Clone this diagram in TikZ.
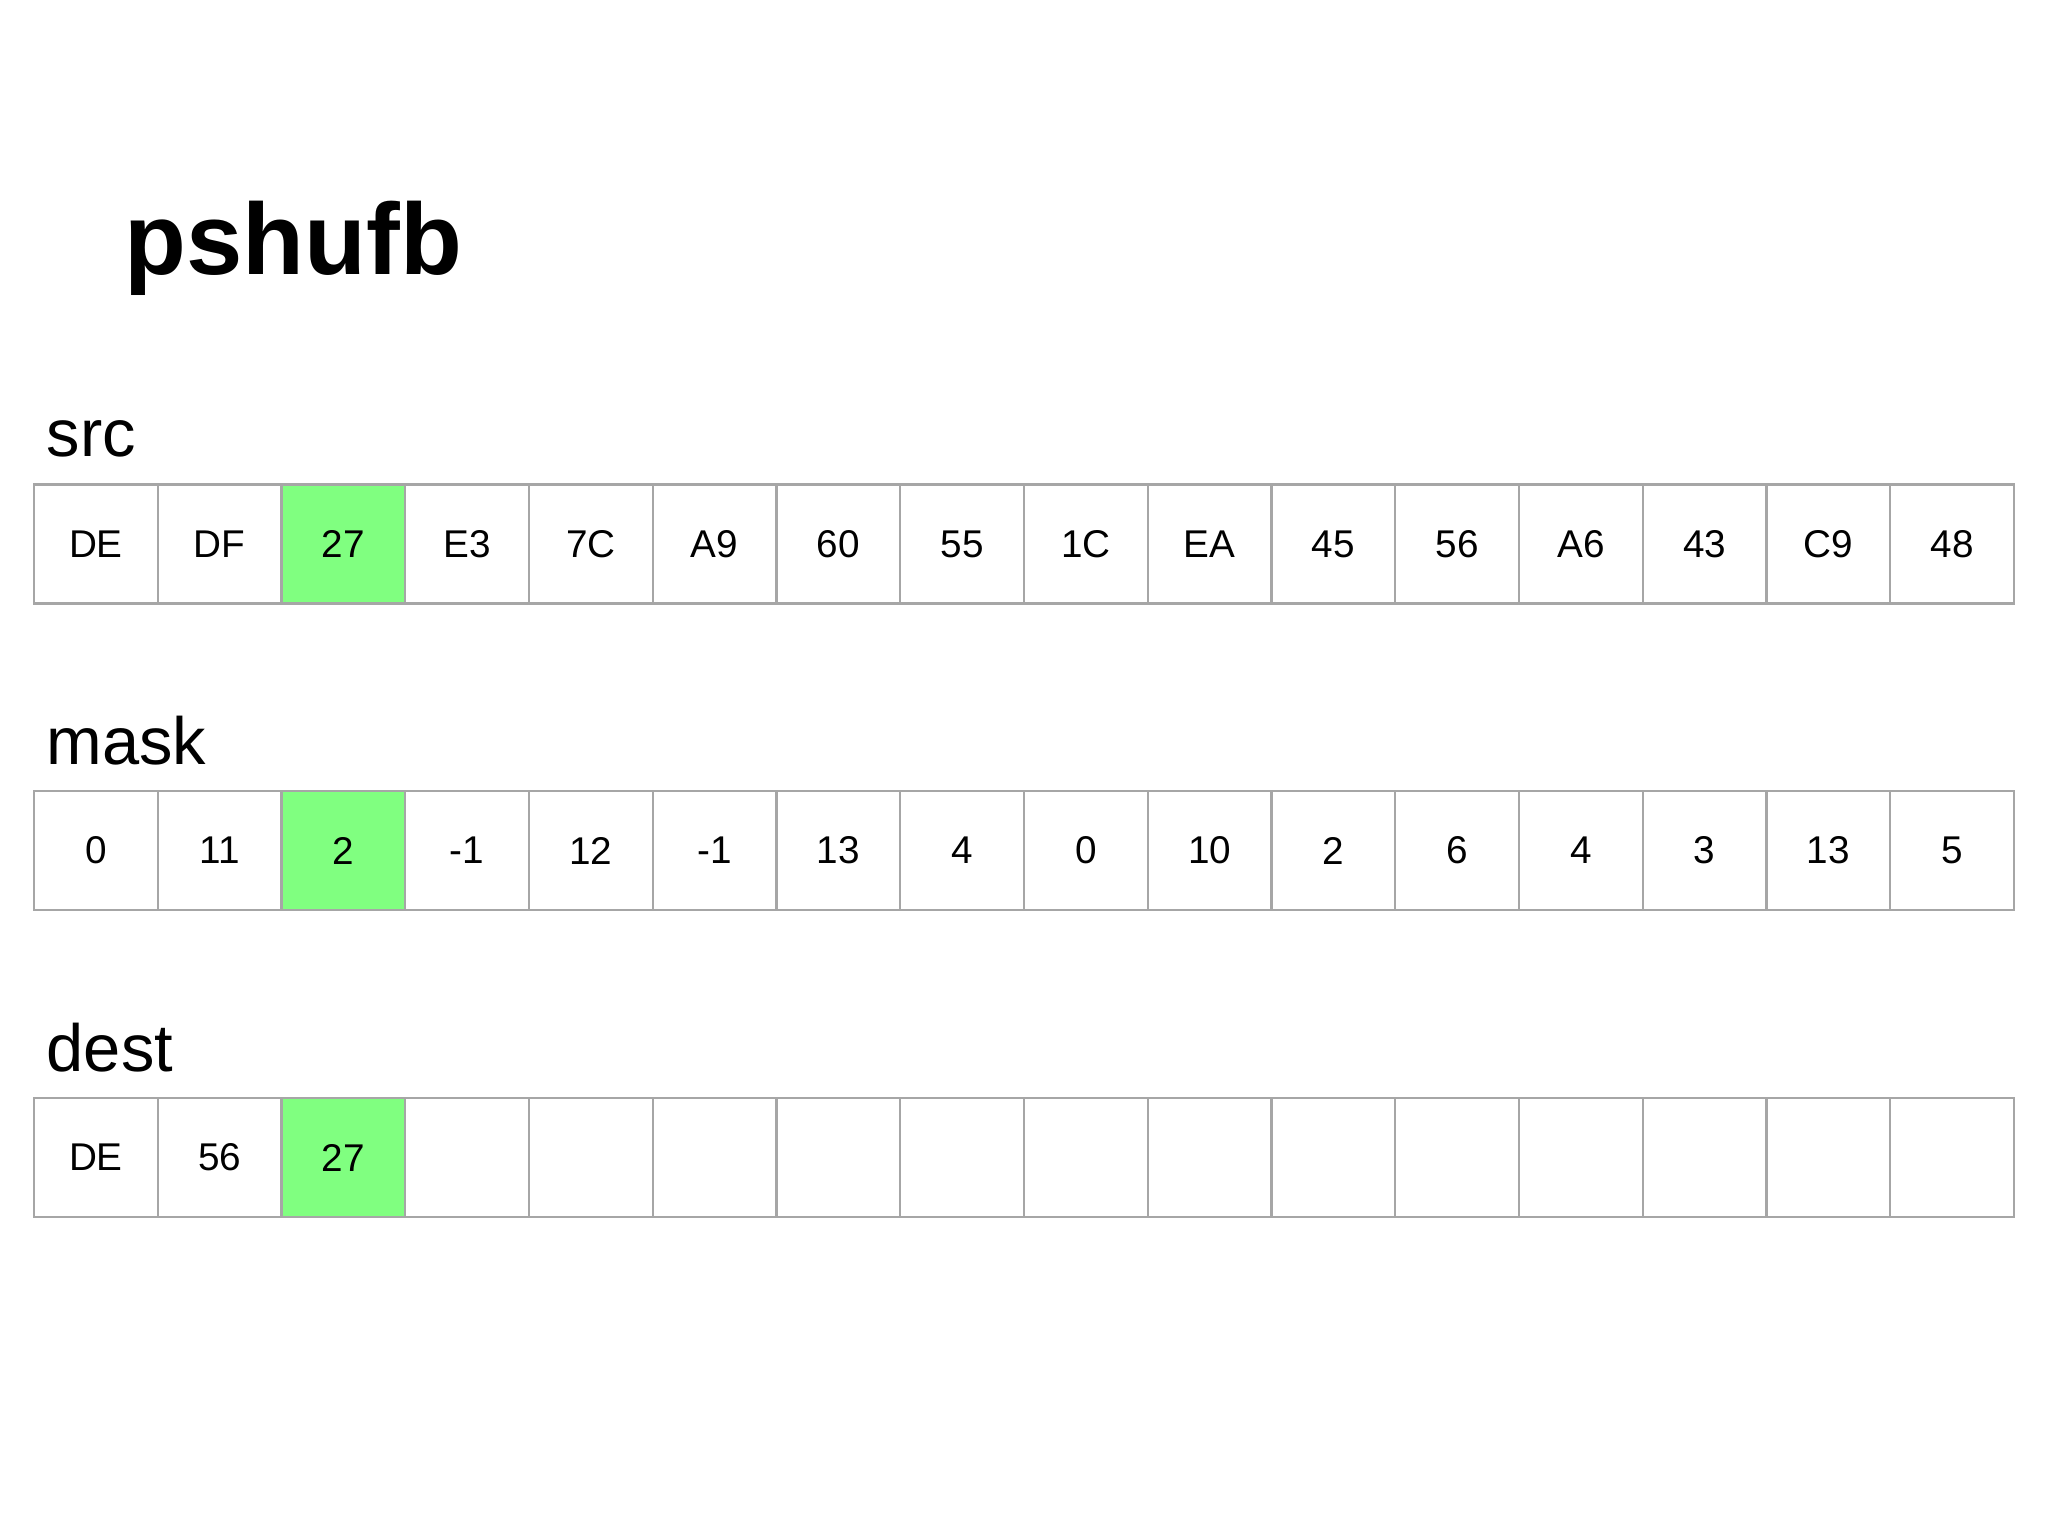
\documentclass[tikz,border=0pt]{standalone}
\usepackage{fontspec}
\setmainfont{Liberation Sans}
\usepackage{tikz}
\usepackage{xcolor}

\definecolor{hitgreen}{RGB}{128,255,128}
\definecolor{cellgray}{RGB}{166,166,166}

\tikzset{
    cell/.style={draw=cellgray,line width=0.6pt,minimum width=1.2375cm,minimum height=1.19cm,inner sep=0pt,outer sep=0pt,font=\fontsize{11}{13}\selectfont},
    hit/.style={cell,fill=hitgreen},
    rowname/.style={anchor=base west,inner sep=0pt,font=\fontsize{19}{23}\selectfont}
}

\begin{document}
\begin{tikzpicture}[x=0.01cm,y=-0.01cm]
            \useasboundingbox (0,0) rectangle (2048,1536);
            \fill[white](0,0) rectangle (2048,1536);

            \node[anchor=base west,inner sep=0pt,font=\fontsize{28.8}{34}\selectfont\bfseries] (title) at (124,274){pshufb};

            % src
            \node[rowname] (srclabel) at (46,456){src};
            \node[cell] (src1) at (95.9,544){DE};
            \node[cell] (src2) at (219.6,544){DF};
            \node[hit] (src3) at (343.4,544){27};
            \node[cell] (src4) at (467.1,544){E3};
            \node[cell] (src5) at (590.9,544){7C};
            \node[cell] (src6) at (714.6,544){A9};
            \node[cell] (src7) at (838.4,544){60};
            \node[cell] (src8) at (962.1,544){55};
            \node[cell] (src9) at (1085.9,544){1C};
            \node[cell] (src10) at (1209.6,544){EA};
            \node[cell] (src11) at (1333.4,544){45};
            \node[cell] (src12) at (1457.1,544){56};
            \node[cell] (src13) at (1580.9,544){A6};
            \node[cell] (src14) at (1704.6,544){43};
            \node[cell] (src15) at (1828.4,544){C9};
            \node[cell] (src16) at (1952.1,544){48};

            % mask
            \node[rowname] (masklabel) at (46,764){mask};
            \node[cell] (mask1) at (95.9,850.5){0};
            \node[cell] (mask2) at (219.6,850.5){11};
            \node[hit] (mask3) at (343.4,850.5){2};
            \node[cell] (mask4) at (467.1,850.5){-1};
            \node[cell] (mask5) at (590.9,850.5){12};
            \node[cell] (mask6) at (714.6,850.5){-1};
            \node[cell] (mask7) at (838.4,850.5){13};
            \node[cell] (mask8) at (962.1,850.5){4};
            \node[cell] (mask9) at (1085.9,850.5){0};
            \node[cell] (mask10) at (1209.6,850.5){10};
            \node[cell] (mask11) at (1333.4,850.5){2};
            \node[cell] (mask12) at (1457.1,850.5){6};
            \node[cell] (mask13) at (1580.9,850.5){4};
            \node[cell] (mask14) at (1704.6,850.5){3};
            \node[cell] (mask15) at (1828.4,850.5){13};
            \node[cell] (mask16) at (1952.1,850.5){5};

            % dest
            \node[rowname] (destlabel) at (46,1071){dest};
            \node[cell] (dest1) at (95.9,1157.5){DE};
            \node[cell] (dest2) at (219.6,1157.5){56};
            \node[hit] (dest3) at (343.4,1157.5){27};
            \node[cell] (dest4) at (467.1,1157.5){};
            \node[cell] (dest5) at (590.9,1157.5){};
            \node[cell] (dest6) at (714.6,1157.5){};
            \node[cell] (dest7) at (838.4,1157.5){};
            \node[cell] (dest8) at (962.1,1157.5){};
            \node[cell] (dest9) at (1085.9,1157.5){};
            \node[cell] (dest10) at (1209.6,1157.5){};
            \node[cell] (dest11) at (1333.4,1157.5){};
            \node[cell] (dest12) at (1457.1,1157.5){};
            \node[cell] (dest13) at (1580.9,1157.5){};
            \node[cell] (dest14) at (1704.6,1157.5){};
            \node[cell] (dest15) at (1828.4,1157.5){};
            \node[cell] (dest16) at (1952.1,1157.5){};
        \end{tikzpicture}
\end{document}
